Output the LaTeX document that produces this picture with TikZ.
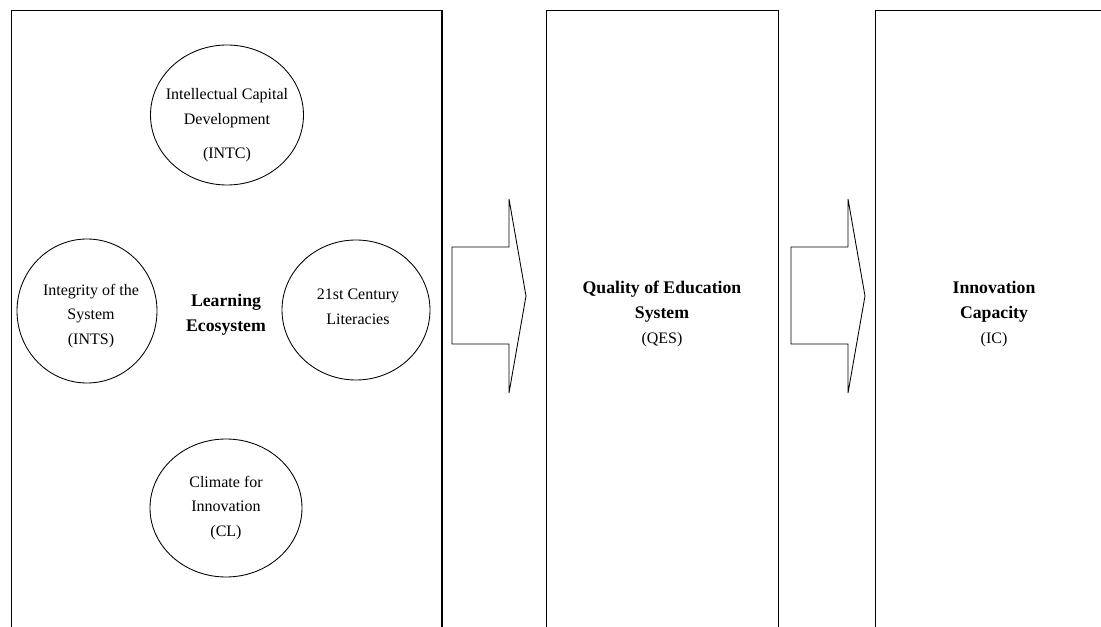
\documentclass[tikz,border=0pt]{standalone}
\usepackage{fontspec}
\setmainfont{Liberation Serif}
\usetikzlibrary{shapes.geometric}
\newcommand{\headtxt}[1]{{\fontsize{13.3}{18.75}\selectfont\bfseries #1}}

\begin{document}
\begin{tikzpicture}[x=0.75pt,y=-0.75pt,
    font=\fontsize{12}{18.5}\selectfont,
    panel/.style={draw,line width=1.1pt,anchor=north west,
      minimum height=480pt,inner sep=0pt},
    bub/.style={draw,ellipse,line width=0.65pt,inner sep=0pt},
    txt/.style={align=center,inner sep=0pt},
    blk/.style={draw,line width=0.65pt,line join=miter}]
  \path[use as bounding box,clip] (0,0) rectangle (1101,627);
  % the three columns
  \node[panel,minimum width=322.9pt] (learn) at (10.5,10) {};
  \node[panel,minimum width=174pt] (qes) at (546,10) {};
  \node[panel,minimum width=178.5pt] (icap) at (875,10) {};
  % learning ecosystem bubbles
  \node[bub,minimum width=114.75pt,minimum height=105pt] (intc) at (227,115) {};
  \node[bub,minimum width=105pt,minimum height=108pt] (ints) at (87,311) {};
  \node[bub,minimum width=111pt,minimum height=105pt] (lit) at (356,310) {};
  \node[bub,minimum width=114pt,minimum height=103.5pt] (cl) at (226,508) {};
  \node[txt] (intc-t) at (227,125) {Intellectual Capital\\Development\\[7pt](INTC)};
  \node[txt] (ints-t) at (91,316) {Integrity of the\\System\\(INTS)};
  \node[txt] (lit-t) at (358,307) {21st Century\\Literacies};
  \node[txt] (cl-t) at (226,508) {Climate for\\Innovation\\(CL)};
  \node[txt] (eco) at (226,315) {\headtxt{Learning}\\\headtxt{Ecosystem}};
  \node[txt] (qes-t) at (662,314)
    {\headtxt{Quality of Education}\\\headtxt{System}\\(QES)};
  \node[txt] (ic-t) at (994,314) {\headtxt{Innovation}\\\headtxt{Capacity}\\(IC)};
  % block arrows between the columns
  \foreach \sx in {452,791}
    \draw[blk,shift={(\sx,0)}] (0,247) -- (57,247) -- (57,199) -- (74,296)
      -- (57,393) -- (57,344) -- (0,344) -- cycle;
\end{tikzpicture}
\end{document}
